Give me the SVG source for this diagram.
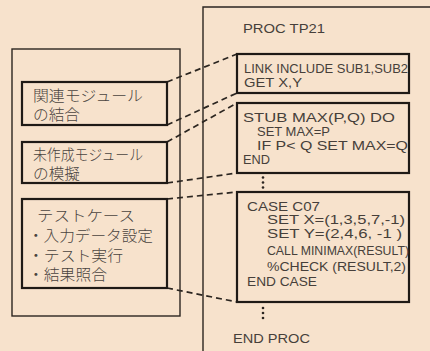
<svg xmlns="http://www.w3.org/2000/svg" width="430" height="351" viewBox="0 0 430 351">
<style>
.bg{fill:#f7e2cc}
.outer{fill:none;stroke:#2b2520;stroke-width:1.4}
.box{fill:none;stroke:#1f1a16;stroke-width:2.2}
.dash{fill:none;stroke:#2b2520;stroke-width:1.7;stroke-dasharray:6 4}
.jp{font-family:"Noto Sans CJK JP","Noto Sans",sans-serif;font-size:15px;font-weight:300;fill:#4a443f}
.en{font-family:"Liberation Sans","DejaVu Sans",sans-serif;font-size:13px;fill:#463f3a}
.sm{font-size:12px}
.dot{fill:#2b2520}
</style>
<rect class="bg" x="0" y="0" width="430" height="351"/>
<g id="left-panel">
<rect class="outer" x="12" y="49" width="168" height="267"/>
</g>
<g id="right-panel">
<path class="outer" d="M203,351 V7 H430"/>
<text class="en" x="243" y="33" textLength="82" lengthAdjust="spacingAndGlyphs">PROC TP21</text>
<text class="en" x="233" y="343" textLength="77" lengthAdjust="spacingAndGlyphs">END PROC</text>
<circle class="dot" cx="263" cy="177.5" r="1.3"/>
<circle class="dot" cx="263" cy="182.5" r="1.3"/>
<circle class="dot" cx="263" cy="187.5" r="1.3"/>
<circle class="dot" cx="263" cy="308" r="1.3"/>
<circle class="dot" cx="263" cy="313" r="1.3"/>
<circle class="dot" cx="263" cy="318" r="1.3"/>
</g>
<g id="connectors">
<line class="dash" x1="167" y1="82" x2="237" y2="54"/>
<line class="dash" x1="167" y1="125" x2="237" y2="93"/>
<line class="dash" x1="167" y1="142" x2="237" y2="103"/>
<line class="dash" x1="167" y1="183" x2="237" y2="173"/>
<line class="dash" x1="167" y1="199" x2="237" y2="192"/>
<line class="dash" x1="167" y1="288" x2="237" y2="302"/>
</g>
<g id="node-kanren">
<rect class="box" x="22" y="82" width="145" height="43"/>
<text class="jp" x="33" y="101" textLength="110" lengthAdjust="spacingAndGlyphs">関連モジュール</text>
<text class="jp" x="33" y="120" textLength="47" lengthAdjust="spacingAndGlyphs">の結合</text>
</g>
<g id="node-misakusei">
<rect class="box" x="22" y="142" width="145" height="41"/>
<text class="jp" x="33" y="160" textLength="110" lengthAdjust="spacingAndGlyphs">未作成モジュール</text>
<text class="jp" x="33" y="179" textLength="47" lengthAdjust="spacingAndGlyphs">の模擬</text>
</g>
<g id="node-testcase">
<rect class="box" x="22" y="199" width="145" height="89"/>
<text class="jp" x="37" y="221" textLength="98" lengthAdjust="spacingAndGlyphs">テストケース</text>
<text class="jp" x="28" y="241" textLength="125" lengthAdjust="spacingAndGlyphs">・入力データ設定</text>
<text class="jp" x="28" y="261" textLength="95" lengthAdjust="spacingAndGlyphs">・テスト実行</text>
<text class="jp" x="28" y="280" textLength="79" lengthAdjust="spacingAndGlyphs">・結果照合</text>
</g>
<g id="node-link">
<rect class="box" x="237" y="54" width="172" height="39"/>
<text class="en" x="244" y="73" textLength="164" lengthAdjust="spacingAndGlyphs">LINK INCLUDE SUB1,SUB2</text>
<text class="en" x="244" y="87" textLength="58" lengthAdjust="spacingAndGlyphs">GET  X,Y</text>
</g>
<g id="node-stub">
<rect class="box" x="237" y="103" width="172" height="70"/>
<text class="en" x="243" y="122" textLength="152" lengthAdjust="spacingAndGlyphs">STUB MAX(P,Q) DO</text>
<text class="en" x="257" y="136" textLength="73" lengthAdjust="spacingAndGlyphs">SET MAX=P</text>
<text class="en" x="257" y="150" textLength="151" lengthAdjust="spacingAndGlyphs">IF P&lt; Q SET MAX=Q</text>
<text class="en" x="243" y="164" textLength="27" lengthAdjust="spacingAndGlyphs">END</text>
</g>
<g id="node-case">
<rect class="box" x="237" y="192" width="172" height="110"/>
<text class="en" x="247" y="211" textLength="73" lengthAdjust="spacingAndGlyphs">CASE C07</text>
<text class="en sm" x="267" y="224" textLength="138" lengthAdjust="spacingAndGlyphs">SET X=(1,3,5,7,-1)</text>
<text class="en sm" x="267" y="238" textLength="135" lengthAdjust="spacingAndGlyphs">SET Y=(2,4,6, -1 )</text>
<text class="en" x="267" y="255" textLength="142" lengthAdjust="spacingAndGlyphs">CALL MINIMAX(RESULT)</text>
<text class="en" x="267" y="271" textLength="139" lengthAdjust="spacingAndGlyphs">%CHECK (RESULT,2)</text>
<text class="en" x="247" y="286" textLength="70" lengthAdjust="spacingAndGlyphs">END CASE</text>
</g>
</svg>
